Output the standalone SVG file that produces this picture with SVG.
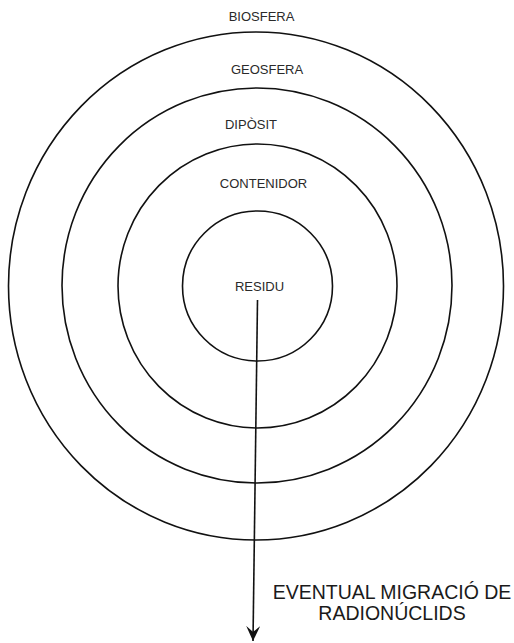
<svg xmlns="http://www.w3.org/2000/svg" width="514" height="643" viewBox="0 0 514 643">
  <style>
    .ring { fill: none; stroke: #111; stroke-width: 1.6; }
    .lbl { font-family: "Liberation Sans", Arial, sans-serif; font-size: 13px; fill: #2a2a2a; text-anchor: middle; }
    .big { font-family: "Liberation Sans", Arial, sans-serif; font-size: 19.5px; fill: #1a1a1a; text-anchor: middle; }
    .conn { stroke: #111; stroke-width: 1.6; fill: none; }
  </style>
  <defs>
    <marker id="arrow" viewBox="0 0 16 14" refX="15" refY="7" markerWidth="16" markerHeight="14" markerUnits="userSpaceOnUse" orient="auto">
      <path d="M0,0 L15,7 L0,14 L6,7 Z" fill="#111"/>
    </marker>
  </defs>
  <rect width="514" height="643" fill="#fff"/>
  <g id="biosfera">
    <text class="lbl" x="261.5" y="21">BIOSFERA</text>
  </g>
  <g id="geosfera">
    <ellipse class="ring" cx="256" cy="286" rx="247.5" ry="254"/>
    <text class="lbl" x="267" y="74">GEOSFERA</text>
  </g>
  <g id="diposit">
    <ellipse class="ring" cx="257" cy="285.5" rx="195" ry="197.5"/>
    <text class="lbl" x="251" y="129">DIPÒSIT</text>
  </g>
  <g id="contenidor">
    <ellipse class="ring" cx="257.5" cy="286" rx="139.5" ry="142"/>
    <text class="lbl" x="263.5" y="188">CONTENIDOR</text>
  </g>
  <g id="residu">
    <ellipse class="ring" cx="257.5" cy="286" rx="75" ry="75"/>
    <text class="lbl" x="259.5" y="291">RESIDU</text>
  </g>
  <g id="connectors">
    <line class="conn" x1="257.5" y1="300" x2="253" y2="641" marker-end="url(#arrow)"/>
  </g>
  <g id="migracio">
    <text class="big" x="392" y="599">EVENTUAL MIGRACIÓ DE</text>
    <text class="big" x="392" y="620">RADIONÚCLIDS</text>
  </g>
</svg>
